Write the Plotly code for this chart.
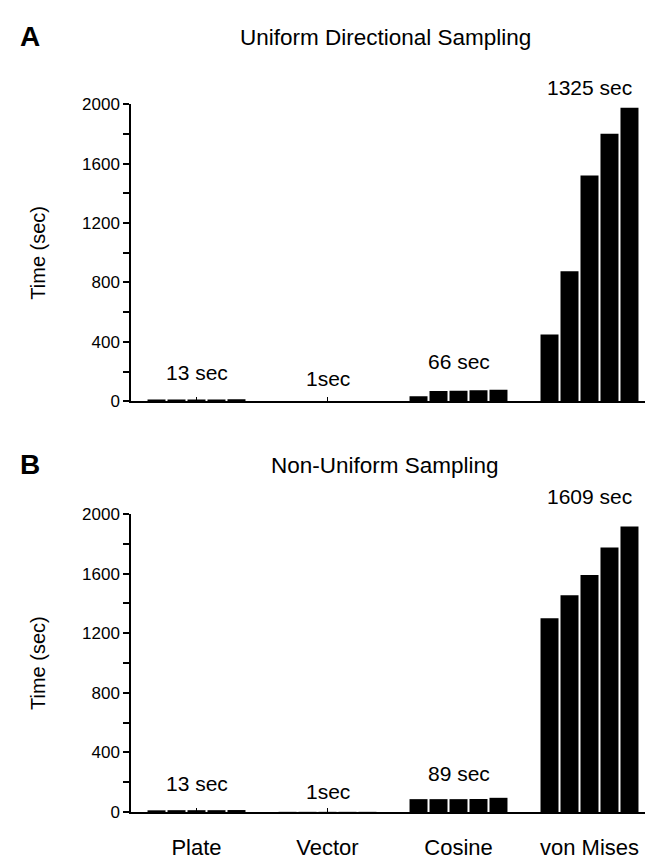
import plotly.graph_objects as go

categories = ["Plate", "Vector", "Cosine", "von Mises"]

# Panel A: Uniform Directional Sampling (5 runs per method)
uniform_runs = [
    [12, 13, 13, 13, 14],        # Plate
    [1, 1, 1, 1, 1],             # Vector
    [35, 70, 72, 75, 78],        # Cosine
    [450, 875, 1520, 1800, 1975] # von Mises
]
uniform_labels = ["13 sec", "1sec", "66 sec", "1325 sec"]

# Panel B: Non-Uniform Sampling
nonuniform_runs = [
    [12, 13, 13, 13, 14],
    [1, 1, 1, 1, 1],
    [87, 87, 87, 88, 96],
    [1300, 1455, 1590, 1775, 1915]
]
nonuniform_labels = ["13 sec", "1sec", "89 sec", "1609 sec"]

y_ticks = [0, 400, 800, 1200, 1600, 2000]

# label anchor heights (data units) and extra pixel shift above each group
uniform_label_y = [191, 151, 270, 2000]
nonuniform_label_y = [190, 138, 262, 2000]
label_shift = [0, 0, 0, 17]

FONT = "Liberation Sans, Arial, sans-serif"
W, H = 653, 864

fig = go.Figure()

panels = [
    (uniform_runs, uniform_labels, uniform_label_y, "x", "y"),
    (nonuniform_runs, nonuniform_labels, nonuniform_label_y, "x2", "y2"),
]
for runs, labels, label_y, xa, ya in panels:
    for i in range(5):
        fig.add_trace(go.Bar(
            x=categories,
            y=[runs[g][i] for g in range(len(categories))],
            marker=dict(color="black", line=dict(width=0)),
            xaxis=xa, yaxis=ya, showlegend=False, hoverinfo="skip",
        ))
    for c, txt, ly, sh in zip(categories, labels, label_y, label_shift):
        fig.add_annotation(x=c, y=ly, yshift=sh, text=txt, xref=xa, yref=ya,
                           showarrow=False, font=dict(size=21, color="black", family=FONT))

x0, x1 = 123 / W, 647 / W
top_dom = [1 - 393 / H, 1 - 89 / H]
bot_dom = [1 - 813 / H, 1 - 508 / H]

yaxis_common = dict(
    range=[0, 2000.5], tickvals=y_ticks, ticks="outside", ticklen=6, tickwidth=1.5,
    showline=True, linewidth=1.5, linecolor="black", showgrid=False, zeroline=False,
    minor=dict(dtick=200, tick0=0, ticks="outside", ticklen=6, tickwidth=1.5, tickcolor="black"),
    tickfont=dict(size=17, color="black", family=FONT), tickcolor="black",
)
xaxis_common = dict(
    type="category", categoryorder="array", categoryarray=categories,
    range=[-0.5, 3.5], showline=True, linewidth=2, linecolor="black",
    ticks="inside", ticklen=4, tickwidth=1.2, tickcolor="black", showgrid=False,
    domain=[x0, x1],
)

fig.update_layout(
    width=W, height=H, margin=dict(l=0, r=0, t=0, b=0),
    paper_bgcolor="white", plot_bgcolor="white",
    barmode="group", bargap=0.237, bargroupgap=0.1,
    font=dict(family=FONT, color="black"),
    xaxis=dict(**xaxis_common, anchor="y", showticklabels=False),
    yaxis=dict(**yaxis_common, domain=top_dom, anchor="x"),
    xaxis2=dict(**xaxis_common, anchor="y2", showticklabels=True,
                tickfont=dict(size=22, color="black", family=FONT), ticklabelstandoff=14),
    yaxis2=dict(**yaxis_common, domain=bot_dom, anchor="x2"),
)

# panel letters, titles, axis titles
for letter, ytop, title, dom in [("A", 20, "Uniform Directional Sampling", top_dom),
                                 ("B", 458, "Non-Uniform Sampling", bot_dom)]:
    fig.add_annotation(x=10 / W, y=1 - ytop / H, xref="paper", yref="paper", text=f"<b>{letter}</b>",
                       showarrow=False, xanchor="left", yanchor="middle",
                       font=dict(size=28, color="black", family=FONT))
    fig.add_annotation(x=377 / W, y=1 - (ytop + 1) / H, xref="paper", yref="paper", text=title,
                       showarrow=False, xanchor="center", yanchor="middle",
                       font=dict(size=22.5, color="black", family=FONT))
    fig.add_annotation(x=30 / W, y=(dom[0] + dom[1]) / 2, xref="paper", yref="paper", text="Time (sec)",
                       showarrow=False, textangle=-90, xanchor="center", yanchor="middle",
                       font=dict(size=20, color="black", family=FONT))

fig.write_html("out.html")
